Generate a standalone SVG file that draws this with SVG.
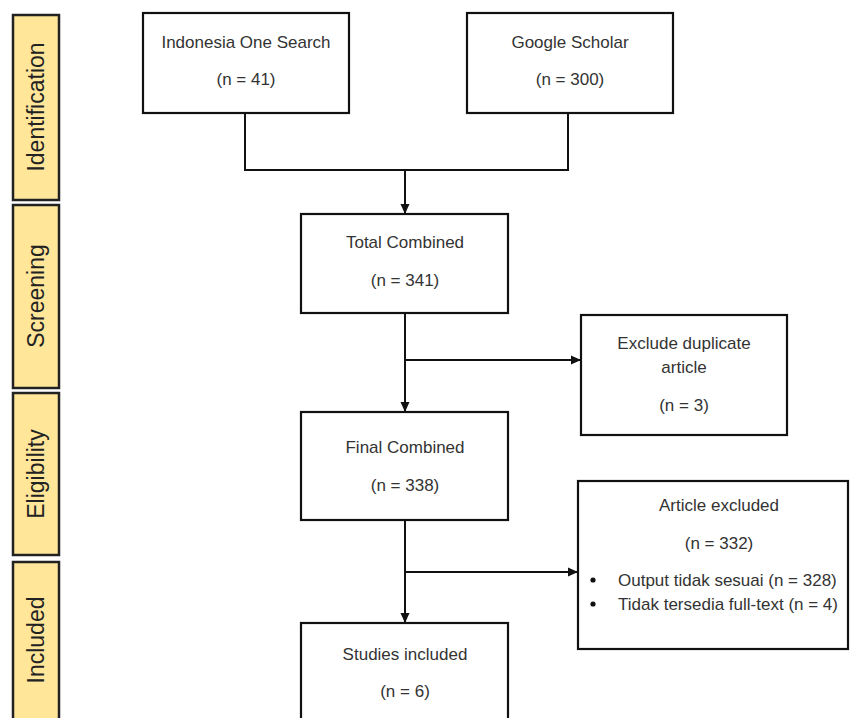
<svg xmlns="http://www.w3.org/2000/svg" width="850" height="718" viewBox="0 0 850 718">
<defs>
<marker id="ah" markerWidth="10" markerHeight="10" refX="9" refY="5" orient="auto" markerUnits="userSpaceOnUse">
<path d="M0,0.5 L10,5 L0,9.5 Z" fill="#111"/>
</marker>
<style>
.box{fill:#fff;stroke:#111;stroke-width:2.2}
.bar{fill:#FFE699;stroke:#222;stroke-width:2.5}
.t{font-family:"Liberation Sans",Arial,sans-serif;font-size:17px;fill:#333;text-anchor:middle}
.tl{font-family:"Liberation Sans",Arial,sans-serif;font-size:17px;fill:#333}
.side{font-family:"Liberation Sans",Arial,sans-serif;font-size:23px;fill:#222;text-anchor:middle;dominant-baseline:central}
.ln{fill:none;stroke:#111;stroke-width:2}
</style>
</defs>
<rect width="850" height="718" fill="#fff"/>
<g id="phase-identification">
<rect class="bar" x="13" y="15" width="46" height="185"/>
<text class="side" transform="translate(36,107) rotate(-90)">Identification</text>
</g>
<g id="phase-screening">
<rect class="bar" x="13" y="205" width="46" height="183"/>
<text class="side" transform="translate(36,296) rotate(-90)">Screening</text>
</g>
<g id="phase-eligibility">
<rect class="bar" x="13" y="393" width="46" height="162"/>
<text class="side" transform="translate(36,474) rotate(-90)">Eligibility</text>
</g>
<g id="phase-included">
<rect class="bar" x="13" y="562" width="46" height="170"/>
<text class="side" transform="translate(36,640) rotate(-90)">Included</text>
</g>
<g id="connectors">
<polyline class="ln" points="245,113 245,170 568,170 568,113"/>
<line class="ln" x1="405" y1="170" x2="405" y2="213" marker-end="url(#ah)"/>
<line class="ln" x1="405" y1="313" x2="405" y2="411" marker-end="url(#ah)"/>
<line class="ln" x1="405" y1="360" x2="580" y2="360" marker-end="url(#ah)"/>
<line class="ln" x1="405" y1="520" x2="405" y2="622" marker-end="url(#ah)"/>
<line class="ln" x1="405" y1="572" x2="577" y2="572" marker-end="url(#ah)"/>
</g>
<g id="indonesia-one-search">
<rect class="box" x="143" y="13" width="206" height="100"/>
<text class="t" x="246" y="48">Indonesia One Search</text>
<text class="t" x="246" y="85">(n = 41)</text>
</g>
<g id="google-scholar">
<rect class="box" x="467" y="13" width="206" height="100"/>
<text class="t" x="570" y="48">Google Scholar</text>
<text class="t" x="570" y="85">(n = 300)</text>
</g>
<g id="total-combined">
<rect class="box" x="301" y="214" width="207" height="99"/>
<text class="t" x="405" y="248">Total Combined</text>
<text class="t" x="405" y="286">(n = 341)</text>
</g>
<g id="exclude-duplicate">
<rect class="box" x="581" y="315" width="206" height="120"/>
<text class="t" x="684" y="349">Exclude duplicate</text>
<text class="t" x="684" y="373">article</text>
<text class="t" x="684" y="411">(n = 3)</text>
</g>
<g id="final-combined">
<rect class="box" x="301" y="412" width="207" height="108"/>
<text class="t" x="405" y="453">Final Combined</text>
<text class="t" x="405" y="491">(n = 338)</text>
</g>
<g id="article-excluded">
<rect class="box" x="578" y="481" width="270" height="168"/>
<text class="t" x="719" y="511">Article excluded</text>
<text class="t" x="719" y="549">(n = 332)</text>
<circle cx="593" cy="580" r="2.6" fill="#111"/>
<circle cx="593" cy="604" r="2.6" fill="#111"/>
<text class="tl" x="618" y="586">Output tidak sesuai (n = 328)</text>
<text class="tl" x="618" y="610">Tidak tersedia full-text (n = 4)</text>
</g>
<g id="studies-included">
<rect class="box" x="301" y="623" width="207" height="110"/>
<text class="t" x="405" y="660">Studies included</text>
<text class="t" x="405" y="697">(n = 6)</text>
</g>
</svg>
